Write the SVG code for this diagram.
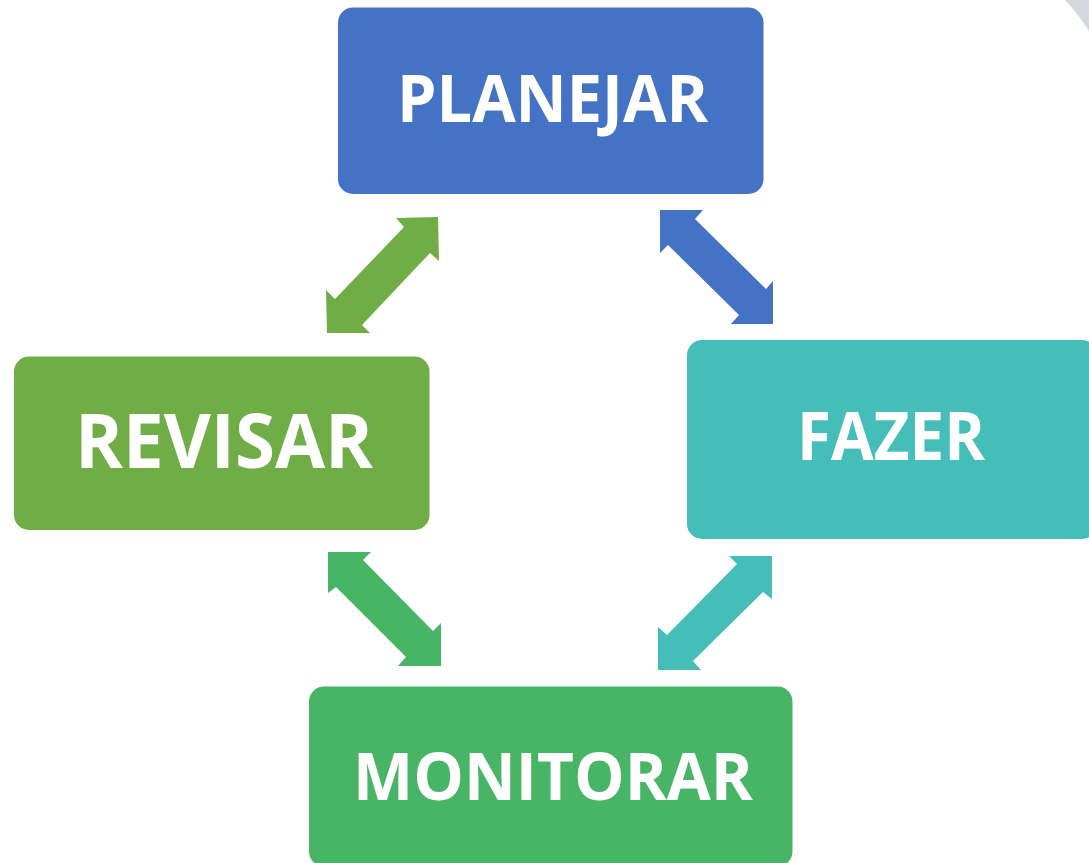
<svg xmlns="http://www.w3.org/2000/svg" width="1089" height="863" viewBox="0 0 1089 863">
<style>
.lbl{font-family:"Open Sans","Noto Sans","Liberation Sans",sans-serif;font-weight:bold;fill:#ffffff}
</style>
<rect x="0" y="0" width="1089" height="863" fill="#ffffff"/>
<path d="M1065,0 Q1078,14 1089,31 L1089,0 Z" fill="#D4D7DD"/>
<g id="connectors">
<polygon fill="#70AD47" points="438,217 396,218 404,227 335,299 326,290 327,333 370,333 362,325 430,253 439,261"/>
<polygon fill="#4472C4" points="660,210 703,210 695,219 766,289 773,281 773,324 731,324 739,315 668,245 660,253"/>
<polygon fill="#48B566" points="328,552 371,552 363,560 433,631 441,623 441,666 398,666 406,657 336,587 328,593"/>
<polygon fill="#45BDB8" points="772,556 729,556 737,564 667,635 658,627 658,670 701,670 693,661 763,592 772,599"/>
</g>
<g id="planejar">
<rect x="338" y="7.5" width="425.5" height="186.5" rx="15" fill="#4472C4"/>
<text class="lbl" x="397" y="121.5" font-size="67" textLength="311" lengthAdjust="spacingAndGlyphs">PLANEJAR</text>
</g>
<g id="revisar">
<rect x="14" y="356.5" width="415.5" height="173.5" rx="15" fill="#70AD47"/>
<text class="lbl" x="75" y="467.5" font-size="75" textLength="298" lengthAdjust="spacingAndGlyphs">REVISAR</text>
</g>
<g id="fazer">
<rect x="687" y="340" width="410" height="199" rx="15" fill="#45BDB8"/>
<text class="lbl" x="797" y="460" font-size="66" textLength="188" lengthAdjust="spacingAndGlyphs">FAZER</text>
</g>
<g id="monitorar">
<rect x="309" y="686.5" width="483.5" height="180" rx="15" fill="#48B566"/>
<text class="lbl" x="353" y="799.5" font-size="67" textLength="400" lengthAdjust="spacingAndGlyphs">MONITORAR</text>
</g>
</svg>
